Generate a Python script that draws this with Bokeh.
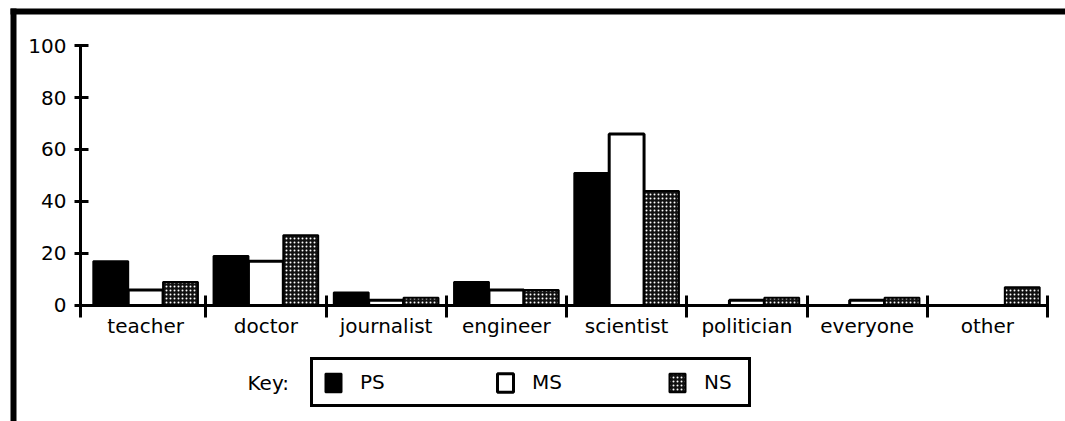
from bokeh.plotting import figure
from bokeh.models import (ColumnDataSource, Range1d, LinearAxis, FixedTicker,
                          Legend, Label, BoxAnnotation)
from bokeh.transform import dodge
from bokeh.embed import file_html
from bokeh.resources import INLINE

# ---- data ----
categories = ["teacher", "doctor", "journalist", "engineer",
              "scientist", "politician", "everyone", "other"]
ps_values = [17, 19, 5, 9, 51, 0, 0, 0]
ms_values = [6, 17, 2, 6, 66, 2, 2, 0]
ns_values = [9, 27, 3, 6, 44, 3, 3, 7]
y_ticks = [0, 20, 40, 60, 80, 100]
series_names = ["PS", "MS", "NS"]

FONT = "DejaVu Sans"
FS = "20px"

n = len(categories)
centers = [i + 0.5 for i in range(n)]
src = ColumnDataSource(dict(x=centers, ps=ps_values, ms=ms_values, ns=ns_values))

# frame covers the whole canvas; axes are pinned with fixed_location
p = figure(width=1065, height=421, output_backend="svg", toolbar_location=None,
           x_range=Range1d(-0.7069, 8.1497), y_range=Range1d(-44.62, 117.31),
           x_axis_type=None, y_axis_type=None,
           min_border_left=0, min_border_right=0,
           min_border_top=0, min_border_bottom=0)
p.outline_line_color = None
p.grid.visible = False
p.background_fill_color = "white"
p.border_fill_color = "white"

bw = 0.29
r_ps = p.vbar(x=dodge("x", -bw, range=p.x_range), top="ps", width=bw, source=src,
              fill_color="black", line_color="black", line_width=2)
r_ms = p.vbar(x=dodge("x", 0, range=p.x_range), top="ms", width=bw, source=src,
              fill_color="white", line_color="black", line_width=3)
r_ns = p.vbar(x=dodge("x", bw, range=p.x_range), top="ns", width=bw, source=src,
              fill_color="#111111", line_color="black", line_width=2,
              hatch_pattern="dot", hatch_color="white", hatch_scale=4,
              hatch_weight=1.1)

y_axis_x = -0.0416

# y axis
yax = LinearAxis(ticker=FixedTicker(ticks=y_ticks, minor_ticks=[]),
                 fixed_location=y_axis_x, bounds=(-4.6, 100))
yax.axis_line_width = 3
yax.major_tick_line_width = 3
yax.major_tick_in = 8
yax.major_tick_out = 6
yax.major_label_standoff = 8
yax.major_label_text_font = FONT
yax.major_label_text_font_size = FS
yax.major_label_text_color = "black"
p.add_layout(yax, "left")

# x axis: labels at category centres, separators as minor ticks
xax = LinearAxis(ticker=FixedTicker(ticks=centers,
                                    minor_ticks=[i + 1 for i in range(n)]),
                 fixed_location=0, bounds=(y_axis_x, n))
xax.major_label_overrides = {c: lab for c, lab in zip(centers, categories)}
xax.axis_line_width = 3
xax.major_tick_in = 0
xax.major_tick_out = 0
xax.minor_tick_in = 10
xax.minor_tick_out = 12
xax.minor_tick_line_width = 3
xax.major_label_standoff = -3
xax.major_label_text_font = FONT
xax.major_label_text_font_size = FS
xax.major_label_text_color = "black"
p.add_layout(xax, "below")

# outer frame lines (top and left)
p.add_layout(BoxAnnotation(left=-0.6237, top=114.23, bottom=111.92,
                           fill_color="black", fill_alpha=1, line_color=None))
p.add_layout(BoxAnnotation(left=-0.6237, right=-0.5738, top=114.23,
                           fill_color="black", fill_alpha=1, line_color=None))

legend = Legend(items=[(series_names[0], [r_ps]), (series_names[1], [r_ms]),
                       (series_names[2], [r_ns])],
                orientation="horizontal", location=(310, 14),
                glyph_width=20, glyph_height=23, label_standoff=17,
                label_width=34, spacing=101, padding=10, margin=0,
                border_line_color="black", border_line_width=3,
                border_line_alpha=1,
                background_fill_color="white", background_fill_alpha=1,
                label_text_font=FONT, label_text_font_size=FS,
                label_text_color="black")
p.add_layout(legend, "center")

key = Label(x=1.347, y=-30, text="Key:", text_font=FONT, text_font_size=FS,
            text_baseline="middle", text_align="left", text_color="black")
p.add_layout(key)

open("out.html", "w").write(file_html(p, INLINE))
